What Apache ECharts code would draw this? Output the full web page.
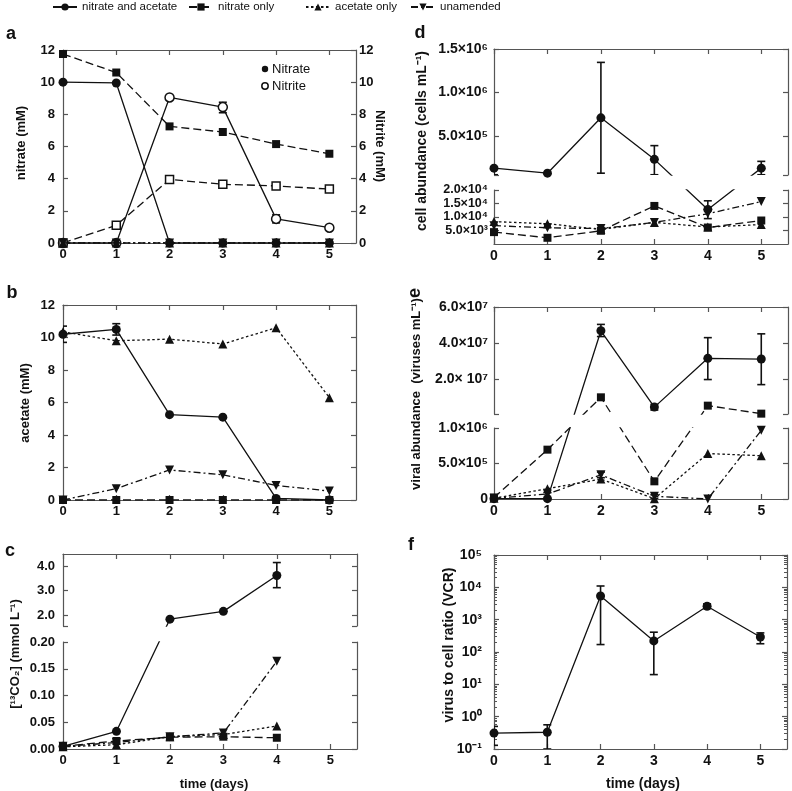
<!DOCTYPE html>
<html>
<head>
<meta charset="utf-8">
<title>nitrate / acetate amendments</title>
<script src="https://cdn.jsdelivr.net/npm/echarts@6.0.0/dist/echarts.min.js"></script>
<style>
  html, body { margin: 0; padding: 0; background: #fff; }
  #chart { width: 792px; height: 791px; }
</style>
</head>
<body>
<div id="chart"></div>
<script>
// ---- values ----
const days = [0, 1, 2, 3, 4, 5];
const cDays = [0, 1, 2, 3, 4];

// a: nitrate (filled symbols) and nitrite (open symbols), mM
const aNitrateBoth = [10.0, 9.95, 0, 0, 0, 0];
const aNitriteBoth = [0, 0, 9.05, 8.45, 1.5, 0.95];
const aNitrateOnly = [11.75, 10.6, 7.25, 6.9, 6.15, 5.55];
const aNitriteOnly = [0, 1.1, 3.95, 3.65, 3.55, 3.35];
const aAcetateOnly = [0, 0, 0, 0, 0, 0];
const aUnamended = [0, 0, 0, 0, 0, 0];
const aNitriteBothErr = [[3, 8.1, 8.75], [4, 1.25, 1.75]];
const aTicks = [0, 2, 4, 6, 8, 10, 12];

// b: acetate, mM
const bBoth = [10.2, 10.5, 5.25, 5.1, 0.1, 0];
const bNitrateOnly = [0, 0, 0, 0, 0, 0];
const bAcetateOnly = [10.35, 9.8, 9.9, 9.6, 10.6, 6.3];
const bUnamended = [0, 0.7, 1.85, 1.55, 0.9, 0.55];
const bBothErr = [[0, 9.7, 10.7], [1, 10.15, 10.85]];

// c: 13CO2, mmol/L (broken axis)
const cBoth = [0.005, 0.033, 1.83, 2.15, 3.62];
const cNitrateOnly = [0.005, 0.015, 0.022, 0.023, 0.021];
const cAcetateOnly = [0.004, 0.008, 0.023, 0.027, 0.043];
const cUnamended = [0.005, 0.012, 0.023, 0.030, 0.164];
const cBothErr = [[4, 3.12, 4.15]];
const cLowTicks = [0, 0.05, 0.10, 0.15, 0.20];
const cLowLabels = ['0.00', '0.05', '0.10', '0.15', '0.20'];
const cHighTicks = [2, 3, 4];
const cHighLabels = ['2.0', '3.0', '4.0'];

// d: cell abundance, cells/mL (broken axis)
const dBoth = [1.29e5, 7.1e4, 7.08e5, 2.3e5, 1.28e4, 1.29e5];
const dNitrateOnly = [4.4e3, 2.3e3, 4.9e3, 1.41e4, 6.1e3, 8.7e3];
const dAcetateOnly = [8.3e3, 7.5e3, 5.4e3, 8.0e3, 6.3e3, 7.2e3];
const dUnamended = [6.8e3, 6.0e3, 5.7e3, 8.0e3, 1.12e4, 1.57e4];
const dBothErr = [[0, 5.3e4, 1.4e5], [2, 7.1e4, 1.346e6], [3, 5.3e4, 3.88e5], [4, 9.4e3, 1.6e4], [5, 5.3e4, 2.07e5]];
const dLowTicks = [5e3, 1e4, 1.5e4, 2e4];
const dLowLabels = ['5.0×10³', '1.0×10⁴', '1.5×10⁴', '2.0×10⁴'];
const dHighTicks = [5e5, 1e6, 1.5e6];
const dHighLabels = ['5.0×10⁵', '1.0×10⁶', '1.5×10⁶'];

// e: viral abundance, viruses/mL (broken axis)
const eBoth = [5e3, 5e3, 4.69e7, 4.8e6, 3.17e7, 3.13e7];
const eNitrateOnly = [2e4, 6.95e5, 1.02e7, 2.49e5, 5.6e6, 1.2e6];
const eAcetateOnly = [1e4, 1.45e5, 2.8e5, 5e3, 6.4e5, 6.1e5];
const eUnamended = [1e4, 7e4, 3.4e5, 3.8e4, 0, 9.67e5];
const eBothErr = [[2, 4.37e7, 5.04e7], [3, 3.2e6, 6.3e6], [4, 2.0e7, 4.31e7], [5, 1.72e7, 4.52e7]];
const eUnamendedErr = [[2, 3.0e5, 3.8e5], [3, 1e4, 6e4]];
const eLowTicks = [0, 5e5, 1e6];
const eLowLabels = ['0', '5.0×10⁵', '1.0×10⁶'];
const eHighTicks = [2e7, 4e7, 6e7];
const eHighLabels = ['2.0× 10⁷', '4.0×10⁷', '6.0×10⁷'];

// f: virus to cell ratio (log)
const fBoth = [0.31, 0.33, 5400, 220, 2600, 290];
const fBothErr = [[0, 0.13, 0.5], [1, 0.1, 0.56], [2, 170, 11000], [3, 20, 410], [4, 2200, 3100], [5, 180, 390]];
const fTicks = [0.1, 1, 10, 100, 1e3, 1e4, 1e5];
const fLabels = ['10⁻¹', '10⁰', '10¹', '10²', '10³', '10⁴', '10⁵'];

const legendNames = ['nitrate and acetate', 'nitrate only', 'acetate only', 'unamended'];

// ---- layout ----
const INK = '#111';
const FRAME = '#555';
const FONT = '"Liberation Sans", Arial, sans-serif';

const grids = [
  {left: 63, top: 50, width: 293, height: 193},   // a
  {left: 63, top: 305, width: 293, height: 195},  // b
  {left: 63, top: 554, width: 294, height: 72},   // c upper
  {left: 63, top: 642, width: 294, height: 107},  // c lower
  {left: 494, top: 49, width: 294, height: 126},  // d upper
  {left: 494, top: 190, width: 294, height: 54},  // d lower
  {left: 494, top: 307, width: 294, height: 107}, // e upper
  {left: 494, top: 428, width: 294, height: 71},  // e lower
  {left: 494, top: 555, width: 293, height: 194}  // f
];

// broken axis: two value ranges drawn in two stacked grids that share one
// continuous axis unit, so a segment crossing the break stays straight
function broken(lo, hi, gLow, gHigh) {
  const loH = gLow.height, hiH = gHigh.height;
  const gap = gLow.top - (gHigh.top + gHigh.height);
  const f = v => v <= lo[1] ? (v - lo[0]) / (lo[1] - lo[0]) * loH
    : v >= hi[0] ? loH + gap + (v - hi[0]) / (hi[1] - hi[0]) * hiH
    : loH + (v - lo[1]) / (hi[0] - lo[1]) * gap;
  return {f: f, loMax: loH, hiMin: loH + gap, hiMax: loH + gap + hiH};
}
const cS = broken([0, 0.2], [1.55, 4.5], grids[3], grids[2]);
const dS = broken([0, 2e4], [5e4, 1.5e6], grids[5], grids[4]);
const eS = broken([0, 1e6], [1e6, 6e7], grids[7], grids[6]);
const ident = v => v;

function xAxisDef(gi, pos, show, labels, fs) {
  return {
    type: 'value', gridIndex: gi, position: pos, show: show, min: 0, max: 5.5,
    splitLine: {show: false},
    axisLine: {show: true, onZero: false, lineStyle: {color: FRAME, width: 1.2}},
    axisTick: {show: true, inside: true, length: 5, customValues: days, lineStyle: {color: FRAME, width: 1.2}},
    axisLabel: {show: labels, customValues: days, margin: 5, showMinLabel: true, showMaxLabel: true,
      color: INK, fontSize: fs, fontWeight: 'bold', fontFamily: FONT}
  };
}

function yAxisDef(gi, pos, o) {
  const showLabels = pos === 'left' || !!o.rightLabels;
  const dist = (a, b) => o.log ? Math.abs(Math.log10(a) - Math.log10(b)) : Math.abs(a - b);
  const fmt = v => {
    let k = 0;
    o.tickVals.forEach((t, i) => { if (dist(t, v) < dist(o.tickVals[k], v)) k = i; });
    return o.labels[k];
  };
  const ax = {
    type: o.log ? 'log' : 'value', logBase: 10, gridIndex: gi, position: pos, min: o.min, max: o.max,
    splitLine: {show: false},
    axisLine: {show: true, onZero: false, lineStyle: {color: FRAME, width: 1.2}},
    axisTick: {show: true, inside: true, length: 5, customValues: o.tickVals.concat(o.extra || []), lineStyle: {color: FRAME, width: 1.2}},
    axisLabel: {show: showLabels, customValues: o.tickVals, margin: pos === 'left' ? o.margin : 3, formatter: fmt,
      interval: 0, showMinLabel: true, showMaxLabel: true, hideOverlap: false,
      color: INK, fontSize: o.fs, lineHeight: o.fs, fontWeight: 'bold', fontFamily: FONT}
  };
  if (o.log) {
    ax.minorTick = {show: true, splitNumber: 9, length: 3, lineStyle: {color: FRAME, width: 1}};
  }
  return ax;
}

const yOpts = [
  {min: 0, max: 12, tickVals: aTicks, labels: aTicks.map(String), rightLabels: true, margin: 8, fs: 13},
  {min: 0, max: 12, tickVals: aTicks, labels: aTicks.map(String), margin: 8, fs: 13},
  {min: cS.hiMin, max: cS.hiMax, tickVals: cHighTicks.map(cS.f), labels: cHighLabels, extra: [cS.hiMin], margin: 8, fs: 13},
  {min: 0, max: cS.loMax, tickVals: cLowTicks.map(cS.f), labels: cLowLabels, margin: 8, fs: 13},
  {min: dS.hiMin, max: dS.hiMax, tickVals: dHighTicks.map(dS.f), labels: dHighLabels, extra: [dS.hiMin], margin: 6, fs: 14},
  {min: 0, max: dS.loMax, tickVals: dLowTicks.map(dS.f), labels: dLowLabels, margin: 6, fs: 12.5},
  {min: eS.hiMin, max: eS.hiMax, tickVals: eHighTicks.map(eS.f), labels: eHighLabels, extra: [eS.hiMin], margin: 6, fs: 14},
  {min: 0, max: eS.loMax, tickVals: eLowTicks.map(eS.f), labels: eLowLabels, margin: 6, fs: 14},
  {min: 0.1, max: 1e5, log: true, tickVals: fTicks, labels: fLabels, margin: 12, fs: 14}
];

const xAxes = [], yAxes = [];
const xShow = [[1, 1], [1, 1], [0, 1], [1, 0], [0, 1], [1, 0], [0, 1], [1, 0], [1, 1]];
grids.forEach((g, gi) => {
  const fs = gi < 4 ? 13 : 14;
  xAxes.push(xAxisDef(gi, 'bottom', !!xShow[gi][0], !!xShow[gi][0], fs));
  xAxes.push(xAxisDef(gi, 'top', !!xShow[gi][1], false, fs));
  yAxes.push(yAxisDef(gi, 'left', yOpts[gi]));
  yAxes.push(yAxisDef(gi, 'right', yOpts[gi]));
});

// ---- series ----
const styles = {
  'nitrate and acetate': {symbol: 'circle', size: 9, dash: 'solid'},
  'nitrate only': {symbol: 'rect', size: 8, dash: [8, 4]},
  'acetate only': {symbol: 'triangle', size: 9, dash: [2.5, 2.5]},
  'unamended': {symbol: 'triangle', size: 9, rotate: 180, dash: [7, 3, 2, 3]}
};

function line(kind, gi, xs, ys, map, o) {
  o = o || {};
  const s = styles[kind];
  return {
    type: 'line', name: o.name || kind, xAxisIndex: 2 * gi, yAxisIndex: 2 * gi,
    data: xs.map((x, i) => [x, map(ys[i])]),
    symbol: s.symbol, symbolSize: s.size, symbolRotate: s.rotate || 0,
    lineStyle: {color: INK, width: 1.3, type: s.dash},
    itemStyle: o.open ? {color: '#fff', borderColor: INK, borderWidth: 1.5} : {color: INK},
    clip: true, silent: true, emphasis: {disabled: true}, z: o.z || 2
  };
}

function errBars(gi, data, map) {
  return {
    type: 'custom', xAxisIndex: 2 * gi, yAxisIndex: 2 * gi, clip: true, silent: true, z: 1,
    encode: {x: 0, y: [1, 2]},
    data: data.map(d => [d[0], map(d[1]), map(d[2])]),
    renderItem: (params, api) => {
      const lo = api.coord([api.value(0), api.value(1)]);
      const hi = api.coord([api.value(0), api.value(2)]);
      const w = 4;
      const st = {stroke: INK, lineWidth: 1.6};
      return {type: 'group', children: [
        {type: 'line', shape: {x1: lo[0], y1: lo[1], x2: hi[0], y2: hi[1]}, style: st},
        {type: 'line', shape: {x1: lo[0] - w, y1: lo[1], x2: lo[0] + w, y2: lo[1]}, style: st},
        {type: 'line', shape: {x1: hi[0] - w, y1: hi[1], x2: hi[0] + w, y2: hi[1]}, style: st}
      ]};
    }
  };
}

const series = [
  // a (first so the legend picks these styles)
  line('nitrate and acetate', 0, days, aNitrateBoth, ident),
  line('nitrate only', 0, days, aNitrateOnly, ident),
  line('nitrate and acetate', 0, days, aNitriteBoth, ident, {open: true, name: 'nitrite (nitrate and acetate)'}),
  line('nitrate only', 0, days, aNitriteOnly, ident, {open: true, name: 'nitrite (nitrate only)'}),
  line('acetate only', 0, days, aAcetateOnly, ident, {z: 3}),
  line('unamended', 0, days, aUnamended, ident, {z: 3}),
  errBars(0, aNitriteBothErr, ident),
  // b
  line('nitrate and acetate', 1, days, bBoth, ident),
  line('nitrate only', 1, days, bNitrateOnly, ident),
  line('acetate only', 1, days, bAcetateOnly, ident),
  line('unamended', 1, days, bUnamended, ident),
  errBars(1, bBothErr, ident)
];

[[2, 3, cS, cDays, [cBoth, cNitrateOnly, cAcetateOnly, cUnamended], [cBothErr]],
 [4, 5, dS, days, [dBoth, dNitrateOnly, dAcetateOnly, dUnamended], [dBothErr]],
 [6, 7, eS, days, [eBoth, eNitrateOnly, eAcetateOnly, eUnamended], [eBothErr, null, null, eUnamendedErr]]
].forEach(p => {
  [p[0], p[1]].forEach(gi => {
    legendNames.forEach((n, k) => {
      series.push(line(n, gi, p[3], p[4][k], p[2].f));
      if (p[5][k]) series.push(errBars(gi, p[5][k], p[2].f));
    });
  });
});

series.push(line('nitrate and acetate', 8, days, fBoth, ident));
series.push(errBars(8, fBothErr, ident));

// ---- text ----
function txt(text, x, y, font, rot) {
  return {type: 'text', x: x, y: y, rotation: rot || 0, silent: true, z: 10,
    style: {text: text, fill: INK, font: font, textAlign: 'center', textVerticalAlign: 'middle', align: 'center', verticalAlign: 'middle'}};
}
const B13 = 'bold 13px ' + FONT, B14 = 'bold 14px ' + FONT, B18 = 'bold 18px ' + FONT;
const up = Math.PI / 2;
const graphic = [
  txt('a', 11, 34, B18), txt('b', 12, 293, B18), txt('c', 10, 551, B18),
  txt('d', 420, 33, B18), txt('e', 415, 293, B18, up), txt('f', 411, 545, B18),
  txt('nitrate (mM)', 21.5, 143, B13, up),
  txt('Nitrite (mM)', 380, 146, B13, -up),
  txt('acetate (mM)', 25, 403, B13, up),
  txt('[¹³CO₂] (mmol L⁻¹)', 15, 654, B13, up),
  txt('time (days)', 214, 784, B13),
  txt('cell abundance (cells mL⁻¹)', 422, 141, B14, up),
  txt('viral abundance  (viruses mL⁻¹)', 416, 394, B13, up),
  txt('virus to cell ratio (VCR)', 449, 645, B14, up),
  txt('time (days)', 643, 784, B14),
  {type: 'circle', shape: {cx: 265, cy: 69, r: 3.2}, style: {fill: INK}, silent: true},
  {type: 'circle', shape: {cx: 265, cy: 86, r: 3.2}, style: {fill: '#fff', stroke: INK, lineWidth: 1.5}, silent: true},
  {type: 'text', x: 272, y: 69, silent: true, style: {text: 'Nitrate', fill: INK, font: '13px ' + FONT, textVerticalAlign: 'middle', verticalAlign: 'middle'}},
  {type: 'text', x: 272, y: 86, silent: true, style: {text: 'Nitrite', fill: INK, font: '13px ' + FONT, textVerticalAlign: 'middle', verticalAlign: 'middle'}}
];

const legendLeft = [52, 188, 305, 410];
const legend = legendNames.map((n, i) => ({
  data: [n], left: legendLeft[i], top: 1, padding: 0, itemGap: 0,
  itemWidth: 24, itemHeight: 9, selectedMode: false,
  textStyle: {fontSize: 11.5, color: INK, fontFamily: FONT}
}));

const chart = echarts.init(document.getElementById('chart'), null, {renderer: 'canvas'});
chart.setOption({
  animation: false,
  backgroundColor: '#fff',
  legend: legend,
  grid: grids,
  xAxis: xAxes,
  yAxis: yAxes,
  series: series,
  graphic: graphic
});
</script>
</body>
</html>
